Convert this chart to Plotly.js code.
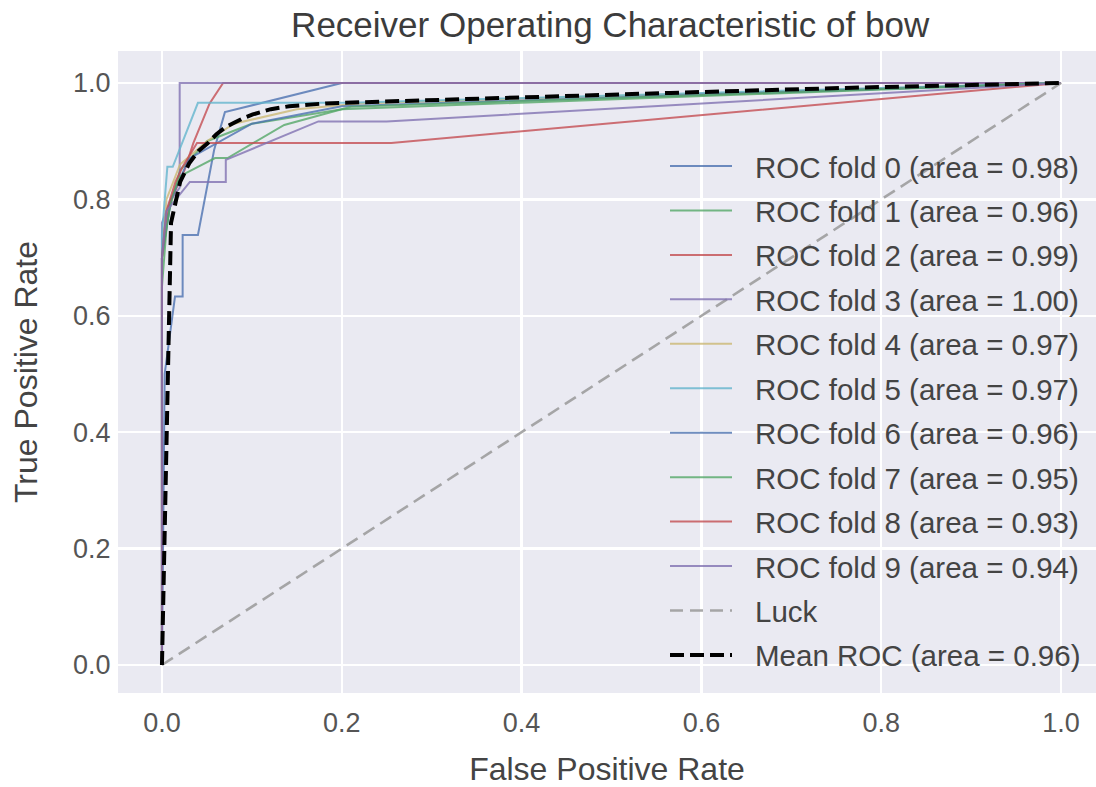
<!DOCTYPE html>
<html>
<head>
<meta charset="utf-8">
<script src="https://cdn.plot.ly/plotly-3.0.1.min.js"></script>
<style>html,body{margin:0;padding:0;background:#fff;}#chart{width:1096px;height:787px;}</style>
</head>
<body>
<div id="chart"></div>
<script>
// ---- data ----
const foldLabels = [
  "ROC fold 0 (area = 0.98)", "ROC fold 1 (area = 0.96)", "ROC fold 2 (area = 0.99)",
  "ROC fold 3 (area = 1.00)", "ROC fold 4 (area = 0.97)", "ROC fold 5 (area = 0.97)",
  "ROC fold 6 (area = 0.96)", "ROC fold 7 (area = 0.95)", "ROC fold 8 (area = 0.93)",
  "ROC fold 9 (area = 0.94)"
];
const fold0Fpr = [0, 0.003, 0.0145, 0.023, 0.023, 0.04, 0.058, 0.07, 0.2, 1];
const fold0Tpr = [0, 0.5, 0.633, 0.633, 0.739, 0.739, 0.885, 0.95, 1.0, 1.0];
const fold1Fpr = [0, 0, 0.008, 0.02, 0.05, 0.1, 0.2, 1];
const fold1Tpr = [0, 0.7, 0.78, 0.85, 0.9, 0.93, 0.955, 1];
const fold2Fpr = [0, 0, 0.003, 0.0104, 0.025, 0.035, 0.053, 0.068, 1];
const fold2Tpr = [0, 0.7, 0.753, 0.8, 0.85, 0.897, 0.965, 1, 1];
const fold3Fpr = [0, 0, 0.01, 0.0197, 0.0197, 1];
const fold3Tpr = [0, 0.76, 0.8, 0.82, 1, 1];
const fold4Fpr = [0, 0, 0.005, 0.02, 0.05, 0.08, 0.15, 0.22, 1];
const fold4Tpr = [0, 0.7, 0.8, 0.86, 0.9, 0.93, 0.955, 0.965, 1];
const fold5Fpr = [0, 0, 0.006, 0.012, 0.04, 0.21, 1];
const fold5Tpr = [0, 0.74, 0.856, 0.856, 0.966, 0.966, 1];
const fold6Fpr = [0, 0, 0.01, 0.03, 0.1, 0.2, 1];
const fold6Tpr = [0, 0.7, 0.8, 0.87, 0.93, 0.96, 1];
const fold7Fpr = [0, 0, 0.005, 0.01, 0.02, 0.059, 0.073, 0.136, 0.21, 1];
const fold7Tpr = [0, 0.65, 0.75, 0.8, 0.84, 0.871, 0.871, 0.928, 0.959, 1];
const fold8Fpr = [0, 0, 0.005, 0.015, 0.023, 0.039, 0.255, 1];
const fold8Tpr = [0, 0.7, 0.78, 0.83, 0.856, 0.897, 0.897, 1];
const fold9Fpr = [0, 0, 0.005, 0.031, 0.071, 0.071, 0.174, 0.25, 1];
const fold9Tpr = [0, 0.7, 0.78, 0.83, 0.83, 0.868, 0.934, 0.934, 1];
const luckFpr = [0, 1];
const luckTpr = [0, 1];
const meanFpr = [0, 0.0101, 0.0202, 0.0303, 0.0404, 0.0505, 0.0606, 0.0707, 0.0808, 0.0909, 0.101, 0.1212, 0.1414, 0.1616, 0.1818, 0.202, 0.2222, 0.5657, 0.7677, 1];
const meanTpr = [0, 0.76, 0.83, 0.862, 0.883, 0.896, 0.912, 0.924, 0.932, 0.94, 0.946, 0.955, 0.96, 0.963, 0.965, 0.966, 0.967, 0.983, 0.992, 1];
const meanLabel = "Mean ROC (area = 0.96)";
const luckLabel = "Luck";
const tickVals = [0, 0.2, 0.4, 0.6, 0.8, 1.0];
const tickText = ["0.0", "0.2", "0.4", "0.6", "0.8", "1.0"];

// ---- styling ----
const palette = ["#4C72B0", "#55A868", "#C44E52", "#8172B2", "#CCB974", "#64B5CD"];
const foldFpr = [fold0Fpr, fold1Fpr, fold2Fpr, fold3Fpr, fold4Fpr, fold5Fpr, fold6Fpr, fold7Fpr, fold8Fpr, fold9Fpr];
const foldTpr = [fold0Tpr, fold1Tpr, fold2Tpr, fold3Tpr, fold4Tpr, fold5Tpr, fold6Tpr, fold7Tpr, fold8Tpr, fold9Tpr];

const traces = foldFpr.map((fx, i) => ({
  x: fx, y: foldTpr[i], type: "scatter", mode: "lines", name: foldLabels[i],
  line: {color: palette[i % palette.length], width: 2},
  opacity: 0.8, showlegend: false
}));
const luckStyle = {color: "#999999", width: 2.6, dash: "13px,7px"};
const meanStyle = {color: "#000000", width: 4, dash: "14px,6px"};
traces.push({x: luckFpr, y: luckTpr, type: "scatter", mode: "lines", name: luckLabel,
  line: luckStyle, opacity: 0.85, showlegend: false});
traces.push({x: meanFpr, y: meanTpr, type: "scatter", mode: "lines", name: meanLabel,
  line: meanStyle, showlegend: false});

const font = "Liberation Sans, Arial, sans-serif";

// ---- legend (drawn as paper-positioned samples + text, matplotlib style, no frame) ----
const plotTop = 51, plotBottom = 693, plotLeft = 118, plotRight = 1096;
const px2x = px => (px - plotLeft) / (plotRight - plotLeft);
const px2y = py => (plotBottom - py) / (plotBottom - plotTop);
const legendEntries = foldLabels.map((t, i) => ({text: t, line: {color: palette[i % palette.length], width: 2}, opacity: 0.8}))
  .concat([{text: luckLabel, line: luckStyle, opacity: 0.85}, {text: meanLabel, line: meanStyle, opacity: 1}]);
const rowFirst = 166, rowStep = 44.45, sampleX0 = 670, sampleX1 = 732, textX = 753;
const shapes = [], annotations = [];
legendEntries.forEach((e, i) => {
  const cy = rowFirst + rowStep * i;
  shapes.push({type: "line", xref: "paper", yref: "paper", x0: px2x(sampleX0), x1: px2x(sampleX1),
    y0: px2y(cy), y1: px2y(cy), line: e.line, opacity: e.opacity});
  annotations.push({xref: "paper", yref: "paper", x: px2x(textX), y: px2y(cy + 1), xanchor: "left", yanchor: "middle",
    text: e.text, showarrow: false, font: {family: font, size: 29.5, color: "#444444"}});
});

const layout = {
  width: 1096, height: 787,
  paper_bgcolor: "#ffffff", plot_bgcolor: "#EAEAF2",
  margin: {l: 118, r: 0, t: 51, b: 94},
  title: {text: "Receiver Operating Characteristic of bow", font: {family: font, size: 35, color: "#3c3c3c"},
          x: 0.5567, xanchor: "center", y: 0.968, yanchor: "middle"},
  showlegend: false,
  shapes: shapes,
  annotations: annotations,
  xaxis: {range: [-0.0489, 1.0389], tickvals: tickVals, ticktext: tickText, showgrid: true, gridcolor: "#ffffff", gridwidth: 2.5,
          zeroline: false, showline: false, ticks: "outside", ticklen: 6, tickcolor: "rgba(0,0,0,0)",
          tickfont: {family: font, size: 27, color: "#555555"},
          title: {text: "False Positive Rate", font: {family: font, size: 32, color: "#444444"}, standoff: 20}},
  yaxis: {range: [-0.0481, 1.055], tickvals: tickVals, ticktext: tickText, showgrid: true, gridcolor: "#ffffff", gridwidth: 2.5,
          zeroline: false, showline: false, ticks: "outside", ticklen: 1, tickcolor: "rgba(0,0,0,0)",
          tickfont: {family: font, size: 27, color: "#555555"},
          title: {text: "True Positive Rate", font: {family: font, size: 32, color: "#444444"}, standoff: 25}}
};
Plotly.newPlot("chart", traces, layout, {displayModeBar: false, staticPlot: true});
</script>
</body>
</html>
